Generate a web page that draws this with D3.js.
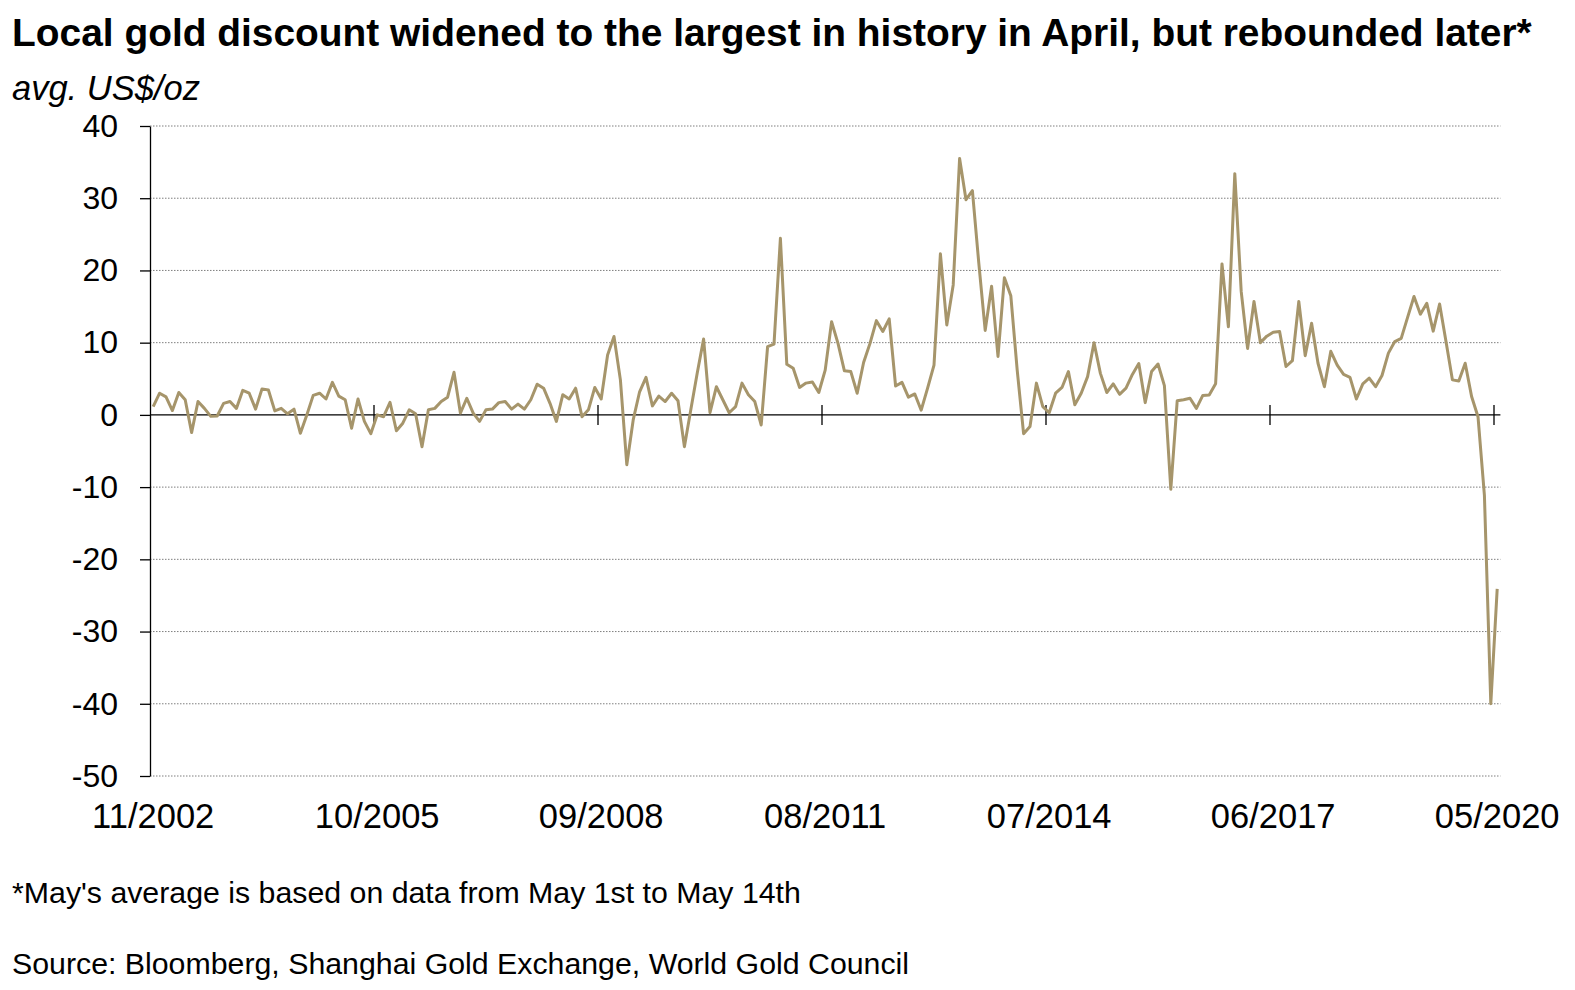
<!DOCTYPE html>
<html>
<head>
<meta charset="utf-8">
<script src="https://cdn.jsdelivr.net/npm/d3@7"></script>
<style>
  html, body { margin: 0; padding: 0; background: #fff; }
  svg { display: block; font-family: "Liberation Sans", Arial, sans-serif; }
</style>
</head>
<body>
<svg id="chart" width="1575" height="990"></svg>
<script>
// ---- Data ----
const startMonth = new Date(2002, 10, 1);   // 11/2002
const endMonth = new Date(2020, 4, 1);      // 05/2020
const discount = [
  1.15, 3.0, 2.5, 0.6, 3.1, 2.1, -2.45, 1.85, 0.9, -0.2,
  -0.15, 1.6, 1.85, 0.9, 3.4, 3.0, 0.8, 3.6, 3.45, 0.55,
  0.9, 0.15, 0.8, -2.55, 0, 2.7, 3.0, 2.2, 4.5, 2.6,
  2.1, -1.85, 2.2, -0.9, -2.6, 0, -0.25, 1.75, -2.2, -1.15,
  0.7, 0.15, -4.4, 0.7, 0.9, 1.85, 2.45, 5.9, 0.25, 2.3,
  0.25, -0.9, 0.7, 0.8, 1.7, 1.85, 0.8, 1.5, 0.8, 2.1,
  4.25, 3.7, 1.6, -0.9, 2.8, 2.2, 3.7, -0.25, 0.7, 3.8,
  2.2, 8.3, 10.85, 4.85, -6.9, -0.7, 3.2, 5.2, 1.25, 2.6,
  1.85, 3.0, 1.95, -4.4, 0.7, 5.75, 10.5, 0.3, 3.9, 2.1,
  0.3, 1.15, 4.4, 2.8, 1.85, -1.4, 9.45, 9.8, 24.45, 7.0,
  6.45, 3.8, 4.4, 4.55, 3.1, 6.2, 12.9, 9.9, 6.1, 6.0,
  3.0, 7.25, 9.9, 13.05, 11.55, 13.3, 4.0, 4.5, 2.45, 2.9,
  0.65, 3.7, 6.9, 22.3, 12.45, 18.0, 35.5, 29.8, 31.05, 21.0,
  11.7, 17.8, 8.1, 19.0, 16.5, 6.2, -2.6, -1.6, 4.4, 1.15,
  0.3, 3.0, 3.8, 6.0, 1.4, 3.0, 5.3, 10.0, 5.75, 3.1,
  4.3, 2.85, 3.7, 5.6, 7.1, 1.7, 6.0, 7.05, 4.05, -10.3,
  1.95, 2.1, 2.3, 0.9, 2.7, 2.75, 4.3, 20.9, 12.2, 33.4,
  17.1, 9.2, 15.7, 10.0, 10.9, 11.45, 11.55, 6.7, 7.5, 15.7,
  8.2, 12.7, 7.15, 3.9, 8.8, 6.9, 5.6, 5.2, 2.2, 4.3,
  5.1, 3.9, 5.45, 8.55, 10.15, 10.6, 13.5, 16.4, 13.95, 15.45,
  11.6, 15.35, 10.15, 4.85, 4.7, 7.15, 2.55, -0.25, -11.1, -40.0,
  -24.1
];
const xTickLabels = ["11/2002", "10/2005", "09/2008", "08/2011", "07/2014", "06/2017", "05/2020"];
const yTicks = [40, 30, 20, 10, 0, -10, -20, -30, -40, -50];
const titleText = "Local gold discount widened to the largest in history in April, but rebounded later*";
const unitText = "avg. US$/oz";
const noteText = "*May's average is based on data from May 1st to May 14th";
const sourceText = "Source: Bloomberg, Shanghai Gold Exchange, World Gold Council";

// ---- Layout ----
const fmt = d3.timeFormat("%m/%Y");
const months = d3.timeMonth.range(startMonth, d3.timeMonth.offset(endMonth, 1)).map(fmt);
const data = months.map((m, i) => ({ m, v: discount[i] }));

const svg = d3.select("#chart");
const plotLeft = 150, plotRight = 1500.4, plotTop = 126, plotBottom = 776;
const lineColor = "#A6956B";

const x = d3.scaleBand().domain(months).range([plotLeft, plotRight]).padding(0);
const bw = x.bandwidth();
const y = d3.scaleLinear().domain([-50, 40]).range([plotBottom, plotTop]);

// Gridlines (dotted)
svg.append("g").selectAll("line")
  .data(yTicks.filter(d => d !== 0))
  .join("line")
  .attr("x1", plotLeft).attr("x2", plotRight)
  .attr("y1", d => y(d)).attr("y2", d => y(d))
  .attr("stroke", "#7f7f7f").attr("stroke-width", 1)
  .attr("stroke-dasharray", "1.5,1.5");

// Y axis
const yAxis = svg.append("g")
  .attr("transform", `translate(${plotLeft},0)`)
  .call(d3.axisLeft(y).tickValues(yTicks).tickSize(10).tickSizeOuter(0).tickPadding(22).tickFormat(d => String(d)));
yAxis.select(".domain").attr("stroke", "#000").attr("stroke-width", 1.3);
yAxis.selectAll(".tick line").attr("stroke", "#000").attr("stroke-width", 1.3);
yAxis.selectAll(".tick text")
  .attr("fill", "#000")
  .style("font-size", "32px")
  .style("font-family", "'Liberation Sans', Arial, sans-serif");

// Zero axis line
svg.append("line")
  .attr("x1", plotLeft).attr("x2", plotRight)
  .attr("y1", y(0)).attr("y2", y(0))
  .attr("stroke", "#000").attr("stroke-width", 1.3);

// X ticks (at category boundaries) crossing the zero line
svg.append("g").selectAll("line")
  .data(xTickLabels.slice(1))
  .join("line")
  .attr("x1", d => x(d)).attr("x2", d => x(d))
  .attr("y1", y(0) - 10).attr("y2", y(0) + 10)
  .attr("stroke", "#000").attr("stroke-width", 1.3);

// X labels
svg.append("g").selectAll("text")
  .data(xTickLabels)
  .join("text")
  .attr("x", d => x(d) + bw / 2)
  .attr("y", 828)
  .attr("text-anchor", "middle")
  .style("font-size", "34.5px")
  .attr("fill", "#000")
  .text(d => d);

// Line
const line = d3.line()
  .x(d => x(d.m) + bw / 2)
  .y(d => y(d.v));
svg.append("path")
  .datum(data)
  .attr("d", line)
  .attr("fill", "none")
  .attr("stroke", lineColor)
  .attr("stroke-width", 3)
  .attr("stroke-linejoin", "round");

// Texts
svg.append("text").attr("x", 12).attr("y", 46)
  .style("font-size", "38.9px").style("font-weight", "bold")
  .attr("fill", "#000").text(titleText);
svg.append("text").attr("x", 12).attr("y", 100)
  .style("font-size", "34.5px").style("font-style", "italic")
  .attr("fill", "#000").text(unitText);
svg.append("text").attr("x", 12).attr("y", 903)
  .style("font-size", "30.3px")
  .attr("fill", "#000").text(noteText);
svg.append("text").attr("x", 12).attr("y", 974)
  .style("font-size", "30.3px")
  .attr("fill", "#000").text(sourceText);
</script>
</body>
</html>
